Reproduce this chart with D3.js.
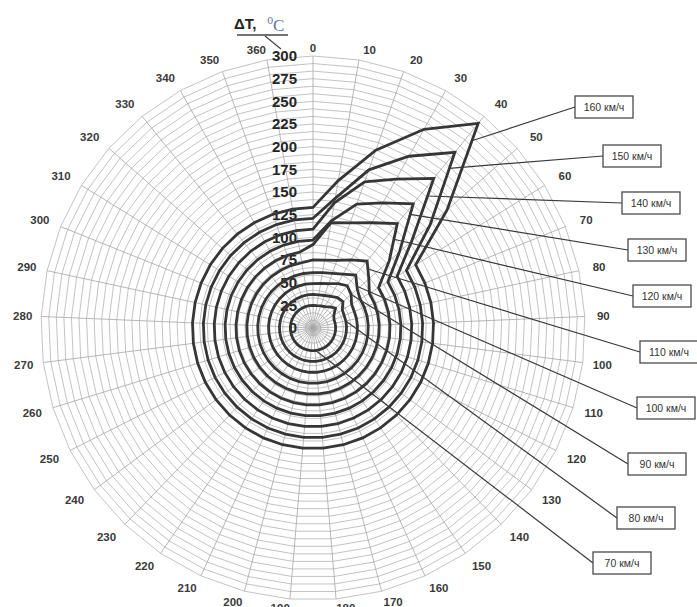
<!DOCTYPE html>
<html>
<head>
<meta charset="utf-8">
<title>Temperature rise by direction and speed</title>
<script src="https://cdn.jsdelivr.net/npm/d3@7"></script>
<style>
  body { margin: 0; background: #fff; }
  svg { display: block; font-family: "Liberation Sans", Arial, sans-serif; }
  .ring, .spoke { fill: none; stroke: #b4b4b4; stroke-width: 0.8; }
  .spoke { stroke: #a6a6a6; }
  .curve { fill: none; stroke: #363636; stroke-width: 2.8; stroke-linejoin: miter; }
  .leader { stroke: #3a3a3a; stroke-width: 1.2; }
  .box rect { fill: #fff; stroke: #4a4a4a; stroke-width: 1.3; }
  .box text { font-size: 10.5px; fill: #333; }
  .angleLabel { font-size: 11.5px; font-weight: bold; fill: #3a3a3a; }
  .radLabel { font-size: 15px; font-weight: bold; fill: #262626; }
</style>
</head>
<body>
<svg id="chart" width="697" height="607"></svg>
<script>
  // categories: wind direction, degrees
  var angles = [0, 10, 20, 30, 40, 50, 60, 70, 80, 90, 100, 110, 120, 130, 140, 150, 160, 170, 180,
    190, 200, 210, 220, 230, 240, 250, 260, 270, 280, 290, 300, 310, 320, 330, 340, 350, 360];
  var radialTicks = [0, 25, 50, 75, 100, 125, 150, 175, 200, 225, 250, 275, 300];
  var speeds = ["70 км/ч", "80 км/ч", "90 км/ч", "100 км/ч", "110 км/ч",
    "120 км/ч", "130 км/ч", "140 км/ч", "150 км/ч", "160 км/ч"];

  // ΔT, °C for each direction
  var dt70 = [25, 25, 26, 27, 30, 33, 27, 25, 25, 25, 25, 25, 25, 25, 25, 25, 25, 25, 25,
    25, 25, 25, 25, 25, 25, 25, 25, 25, 25, 25, 25, 25, 25, 25, 25, 25, 25];
  var dt80 = [37, 37, 38, 40, 43, 44, 38, 37, 37, 37, 37, 37, 37, 37, 37, 37, 37, 37, 37,
    37, 37, 37, 37, 37, 37, 37, 37, 37, 37, 37, 37, 37, 37, 37, 37, 37, 37];
  var dt90 = [49, 50, 52, 56, 60, 56, 50, 49, 49, 49, 49, 49, 49, 49, 49, 49, 49, 49, 49,
    49, 49, 49, 49, 49, 49, 49, 49, 49, 49, 49, 49, 49, 49, 49, 49, 49, 49];
  var dt100 = [61, 62, 64, 68, 75, 65, 61, 61, 61, 61, 61, 61, 61, 61, 61, 61, 61, 61, 61,
    61, 61, 61, 61, 61, 61, 61, 61, 61, 61, 61, 61, 61, 61, 61, 61, 61, 61];
  var dt110 = [75, 76, 79, 86, 95, 82, 73, 73, 73, 73, 73, 73, 73, 73, 73, 73, 73, 73, 73,
    73, 73, 73, 73, 73, 73, 73, 73, 73, 73, 73, 73, 73, 73, 73, 73, 73, 73];
  var dt120 = [92, 118, 123, 133, 148, 112, 85, 85, 85, 85, 85, 85, 85, 85, 85, 85, 85, 85, 85,
    85, 85, 85, 85, 85, 85, 85, 85, 85, 85, 85, 85, 85, 85, 85, 85, 85, 85];
  var dt130 = [97, 120, 145, 158, 176, 127, 97, 97, 97, 97, 97, 97, 97, 97, 97, 97, 97, 97, 97,
    97, 97, 97, 97, 97, 97, 97, 97, 97, 97, 97, 97, 97, 97, 97, 97, 97, 97];
  var dt140 = [109, 140, 171, 188, 212, 145, 109, 109, 109, 109, 109, 109, 109, 109, 109, 109, 109, 109, 109,
    109, 109, 109, 109, 109, 109, 109, 109, 109, 109, 109, 109, 109, 109, 109, 109, 109, 109];
  var dt150 = [121, 145, 185, 217, 249, 172, 121, 121, 121, 121, 121, 121, 121, 121, 121, 121, 121, 121, 121,
    121, 121, 121, 121, 121, 121, 121, 121, 121, 121, 121, 121, 121, 121, 121, 121, 121, 121];
  var dt160 = [133, 165, 208, 251, 290, 197, 133, 133, 133, 133, 133, 133, 133, 133, 133, 133, 133, 133, 133,
    133, 133, 133, 133, 133, 133, 133, 133, 133, 133, 133, 133, 133, 133, 133, 133, 133, 133];

  var series = [dt70, dt80, dt90, dt100, dt110, dt120, dt130, dt140, dt150, dt160];

  // layout: where each label box sits and where its leader meets the curve
  var cx = 313, cy = 328, radius = 272, ringCount = 36;
  var boxW = 58, boxH = 22;
  var boxPos = [[593, 552], [617, 507], [628, 453], [637, 397], [640, 341],
    [633, 285], [628, 239], [622, 192], [603, 145], [575, 96]];
  var leaderAt = [[17, 0.8], [8, 0], [5, 0], [4, 0.8], [4, 0.45],
    [4, 0.42], [4, 0.22], [4, 0.28], [4, 0.22], [4, 0.2]];

  var svg = d3.select("#chart");
  var plot = svg.append("g").attr("transform", "translate(" + cx + "," + cy + ")");

  var r = d3.scaleLinear().domain([0, 300]).range([0, radius]);
  var a = d3.scaleLinear().domain([0, angles.length]).range([0, 2 * Math.PI]);

  var line = d3.lineRadial()
    .angle(function(d, i) { return a(i); })
    .radius(function(d) { return r(d); })
    .curve(d3.curveLinearClosed);

  // grid rings (polygons) and spokes
  var ringVals = d3.range(1, ringCount + 1).map(function(k) { return 300 * k / ringCount; });
  plot.append("g").selectAll("path")
    .data(ringVals)
    .enter().append("path")
      .attr("class", "ring")
      .attr("d", function(v) { return line(angles.map(function() { return v; })); });

  plot.append("g").selectAll("line")
    .data(angles)
    .enter().append("line")
      .attr("class", "spoke")
      .attr("x1", 0).attr("y1", 0)
      .attr("x2", function(d, i) { return r(300) * Math.sin(a(i)); })
      .attr("y2", function(d, i) { return -r(300) * Math.cos(a(i)); });

  // angle labels, pushed out by roughly half their box
  function labelPos(i) {
    var t = a(i), s = Math.sin(t), c = Math.cos(t);
    var rr = r(300) + 3 + 5 * Math.abs(c) + 15 * Math.abs(s);
    var side = s > 1e-6 ? 1 : (s < -1e-6 ? -1 : 0);
    return [rr * s + 9 * side * Math.abs(c), -rr * c];
  }

  plot.append("g").selectAll("text")
    .data(angles)
    .enter().append("text")
      .attr("class", "angleLabel")
      .attr("text-anchor", "middle")
      .attr("dy", "0.35em")
      .attr("x", function(d, i) { return labelPos(i)[0]; })
      .attr("y", function(d, i) { return labelPos(i)[1]; })
      .text(function(d) { return d; });

  // radial axis labels
  plot.append("g").selectAll("text")
    .data(radialTicks)
    .enter().append("text")
      .attr("class", "radLabel")
      .attr("text-anchor", "end")
      .attr("x", -16)
      .attr("y", function(d) { return -r(d); })
      .attr("dy", "0.36em")
      .text(function(d) { return d; });

  // curves
  plot.append("g").selectAll("path")
    .data(series)
    .enter().append("path")
      .attr("class", "curve")
      .attr("d", function(d) { return line(d); });

  // leaders + boxes
  function pointOn(s, idx, t) {
    var j = (idx + 1) % s.length;
    var a0 = a(idx), a1 = a(idx + 1);
    var x0 = r(s[idx]) * Math.sin(a0), y0 = -r(s[idx]) * Math.cos(a0);
    var x1 = r(s[j]) * Math.sin(a1), y1 = -r(s[j]) * Math.cos(a1);
    return [cx + x0 + (x1 - x0) * t, cy + y0 + (y1 - y0) * t];
  }

  var boxes = svg.append("g").selectAll("g")
    .data(speeds)
    .enter().append("g");

  boxes.append("line")
    .attr("class", "leader")
    .attr("x1", function(d, i) { return pointOn(series[i], leaderAt[i][0], leaderAt[i][1])[0]; })
    .attr("y1", function(d, i) { return pointOn(series[i], leaderAt[i][0], leaderAt[i][1])[1]; })
    .attr("x2", function(d, i) { return boxPos[i][0]; })
    .attr("y2", function(d, i) { return boxPos[i][1] + boxH / 2; });

  var box = boxes.append("g")
    .attr("class", "box")
    .attr("transform", function(d, i) { return "translate(" + boxPos[i][0] + "," + boxPos[i][1] + ")"; });
  box.append("rect").attr("width", boxW).attr("height", boxH);
  box.append("text")
    .attr("x", boxW / 2).attr("y", boxH / 2).attr("dy", "0.35em")
    .attr("text-anchor", "middle")
    .text(function(d) { return d; });

  // axis title
  var title = svg.append("g");
  title.append("text")
    .attr("x", 234).attr("y", 29)
    .style("font-size", "15px").style("font-weight", "bold").style("fill", "#222")
    .text("ΔT,");
  title.append("text")
    .attr("x", 267).attr("y", 24)
    .style("font-size", "10px").style("fill", "#5a7898").style("font-family", "'DejaVu Serif', serif")
    .text("0");
  title.append("text")
    .attr("x", 273).attr("y", 31)
    .style("font-size", "17px").style("fill", "#5a7898").style("font-family", "'Liberation Serif', serif")
    .text("C");
  title.append("line")
    .attr("x1", 237).attr("y1", 35).attr("x2", 288).attr("y2", 35)
    .style("stroke", "#444").style("stroke-width", 1.3);
  title.append("line")
    .attr("x1", 265).attr("y1", 36).attr("x2", 281).attr("y2", 49)
    .style("stroke", "#444").style("stroke-width", 1.2);
</script>
</body>
</html>
